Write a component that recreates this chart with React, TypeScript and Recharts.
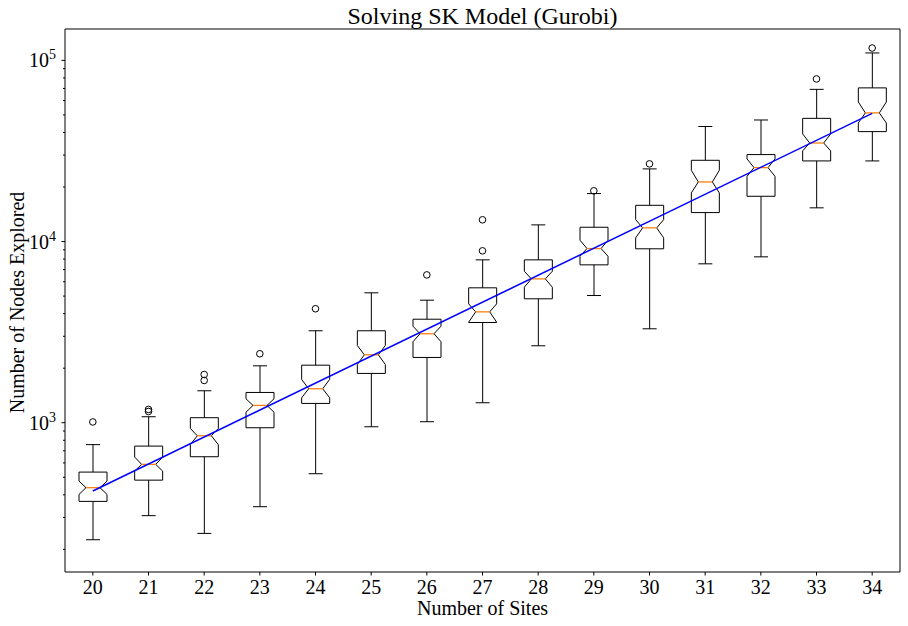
import { ComposedChart, Bar, Line, Scatter, XAxis, YAxis, Label } from 'recharts'

// Number of sites on the x axis
const sites = [20, 21, 22, 23, 24, 25, 26, 27, 28, 29, 30, 31, 32, 33, 34]

// box plot stats (nodes explored)
const whiskerLow = [226, 307, 245, 344, 523, 950, 1013, 1289, 2659, 5036, 3300, 7534, 8234, 15350, 27860]
const q1 = [368, 482, 649, 938, 1278, 1871, 2292, 3575, 4831, 7437, 9120, 14450, 17780, 27860, 40440]
const notchLow = [402, 541, 757, 1143, 1374, 2097, 2800, 3589, 5597, 8299, 10480, 18560, 22910, 31640, 45150]
const median = [438, 589, 847, 1246, 1540, 2371, 3098, 4092, 6223, 9150, 11900, 21330, 25590, 35000, 51300]
const notchHigh = [476, 646, 930, 1355, 1734, 2669, 3410, 4530, 6857, 10167, 13213, 24730, 28600, 39260, 58950]
const q3 = [534, 743, 1066, 1469, 2078, 3218, 3727, 5554, 7925, 11995, 15850, 28090, 30200, 47860, 70500]
const whiskerHigh = [757, 1079, 1501, 2061, 3218, 5212, 4746, 7925, 12360, 18400, 25180, 43140, 46880, 69200, 109900]

// outliers (max two per site)
const flierA = [1010, 1184, 1846, 2402, 4257, null, 6545, 13183, null, 19055, 26840, null, null, 78990, 117000]
const flierB = [null, 1154, 1711, null, null, null, null, 8887, null, null, null, null, null, null, null]

// exponential fit, straight on the log axis
const fit = [420, null, null, null, null, null, null, null, null, null, null, null, null, null, 51000]

const yTicks = [
  200, 300, 400, 500, 600, 700, 800, 900,
  1000, 2000, 3000, 4000, 5000, 6000, 7000, 8000, 9000,
  10000, 20000, 30000, 40000, 50000, 60000, 70000, 80000, 90000,
  100000
]

const rows = sites.map((site, i) => ({
  site: String(site),
  range: [whiskerLow[i], whiskerHigh[i]],
  whiskerLow: whiskerLow[i],
  q1: q1[i],
  notchLow: notchLow[i],
  median: median[i],
  notchHigh: notchHigh[i],
  q3: q3[i],
  whiskerHigh: whiskerHigh[i],
  flierA: flierA[i],
  flierB: flierB[i],
  fit: fit[i]
}))

const FONT = '"Liberation Serif", "DejaVu Serif", serif'

function NotchedBox(props: any) {
  const { x, y, width, height, payload } = props
  if (!payload || !Number.isFinite(y) || !Number.isFinite(height)) return <g />
  const top = Math.min(y, y + height)
  const bottom = Math.max(y, y + height)
  const hi = Math.log(payload.whiskerHigh)
  const lo = Math.log(payload.whiskerLow)
  // place a value on the log axis using the bar's own whisker end pixels
  const py = (v: number) => top + ((bottom - top) * (hi - Math.log(v))) / (hi - lo)
  const cx = x + width / 2
  const half = width / 2
  const inner = half / 2
  const L = cx - half
  const R = cx + half
  const yq1 = py(payload.q1)
  const yq3 = py(payload.q3)
  const ynl = py(payload.notchLow)
  const ynh = py(payload.notchHigh)
  const ym = py(payload.median)
  const d = `M${L},${yq1} L${R},${yq1} L${R},${ynl} L${cx + inner},${ym} L${R},${ynh} L${R},${yq3} L${L},${yq3} L${L},${ynh} L${cx - inner},${ym} L${L},${ynl} Z`
  return (
    <g>
      <line x1={cx} x2={cx} y1={yq3} y2={top} stroke="#000" strokeWidth={1} />
      <line x1={cx} x2={cx} y1={yq1} y2={bottom} stroke="#000" strokeWidth={1} />
      <line x1={cx - inner} x2={cx + inner} y1={top} y2={top} stroke="#000" strokeWidth={1} />
      <line x1={cx - inner} x2={cx + inner} y1={bottom} y2={bottom} stroke="#000" strokeWidth={1} />
      <path d={d} fill="none" stroke="#000" strokeWidth={1} />
      <line x1={cx - inner} x2={cx + inner} y1={ym} y2={ym} stroke="#ff7f0e" strokeWidth={1.3} />
    </g>
  )
}

function Flier(props: any) {
  const { cx, cy } = props
  if (!Number.isFinite(cx) || !Number.isFinite(cy)) return <g />
  return <circle cx={cx} cy={cy} r={3.3} fill="none" stroke="#000" strokeWidth={1} />
}

function YTick(props: any) {
  const { x, y, payload } = props
  const v = payload.value
  const exp = Math.log10(v)
  const major = Math.abs(exp - Math.round(exp)) < 1e-9
  return (
    <g>
      <line x1={x - (major ? 3.5 : 2)} x2={x} y1={y} y2={y} stroke="#000" strokeWidth={1} />
      {major && (
        <text x={x - 9} y={y + 7} textAnchor="end" fontFamily={FONT} fontSize={20} fill="#000">
          10<tspan dy={-8} fontSize={14}>{Math.round(exp)}</tspan>
        </text>
      )}
    </g>
  )
}

function XTick(props: any) {
  const { x, y, payload } = props
  return (
    <g>
      <line x1={x} x2={x} y1={y} y2={y + 3.5} stroke="#000" strokeWidth={1} />
      <text x={x} y={y + 21.5} textAnchor="middle" fontFamily={FONT} fontSize={20} fill="#000">
        {payload.value}
      </text>
    </g>
  )
}

export default function App() {
  return (
    <div style={{ position: 'absolute', left: 0, top: 0, background: '#fff' }}>
      <ComposedChart width={908} height={626} data={rows} margin={{ top: 28, right: 7, bottom: 53, left: 64 }}>
        <XAxis
          dataKey="site"
          height={1}
          interval={0}
          tickSize={0}
          tickMargin={0}
          tickLine={false}
          tick={<XTick />}
          axisLine={{ stroke: '#000', strokeWidth: 1 }}
        >
          <Label
            content={(p: any) => (
              <text x={p.viewBox.x + p.viewBox.width / 2} y={p.viewBox.y + 43} textAnchor="middle" fontFamily={FONT} fontSize={20} fill="#000">
                Number of Sites
              </text>
            )}
          />
        </XAxis>
        <XAxis
          xAxisId="top"
          orientation="top"
          dataKey="site"
          height={1}
          tick={false}
          tickLine={false}
          axisLine={{ stroke: '#000', strokeWidth: 1 }}
        >
          <Label
            content={(p: any) => (
              <text x={p.viewBox.x + p.viewBox.width / 2} y={p.viewBox.y - 4} textAnchor="middle" fontFamily={FONT} fontSize={24} fill="#000">
                Solving SK Model (Gurobi)
              </text>
            )}
          />
        </XAxis>
        <YAxis
          type="number"
          scale="log"
          domain={[150, 149000]}
          allowDataOverflow
          ticks={yTicks}
          interval={0}
          width={1}
          tickSize={0}
          tickMargin={0}
          tickLine={false}
          tick={<YTick />}
          axisLine={{ stroke: '#000', strokeWidth: 1 }}
        >
          <Label
            content={(p: any) => {
              const lx = p.viewBox.x - 40
              const ly = p.viewBox.y + p.viewBox.height / 2 + 2
              return (
                <text x={lx} y={ly} transform={`rotate(-90, ${lx}, ${ly})`} textAnchor="middle" fontFamily={FONT} fontSize={20} fill="#000">
                  Number of Nodes Explored
                </text>
              )
            }}
          />
        </YAxis>
        <YAxis
          yAxisId="right"
          orientation="right"
          width={1}
          tick={false}
          tickLine={false}
          axisLine={{ stroke: '#000', strokeWidth: 1 }}
        />
        <Bar dataKey="range" barSize={28} shape={<NotchedBox />} isAnimationActive={false} />
        <Scatter dataKey="flierA" shape={<Flier />} isAnimationActive={false} />
        <Scatter dataKey="flierB" shape={<Flier />} isAnimationActive={false} />
        <Line
          type="linear"
          dataKey="fit"
          stroke="#0000ff"
          strokeWidth={1.5}
          dot={false}
          connectNulls
          isAnimationActive={false}
        />
      </ComposedChart>
    </div>
  )
}
